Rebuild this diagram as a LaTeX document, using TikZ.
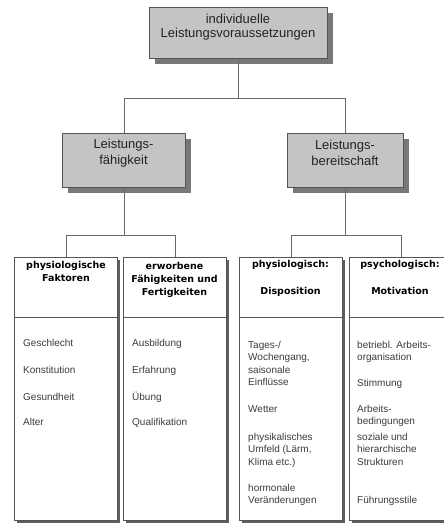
\documentclass[tikz,border=0pt]{standalone}
\usepackage{fontspec}
\setmainfont{Liberation Sans}
\newfontfamily\hdfont{DejaVu Sans}
\usetikzlibrary{shadows}
\definecolor{boxgray}{RGB}{196,196,196}
\definecolor{shadowgray}{RGB}{120,120,120}
\definecolor{colshadow}{RGB}{95,95,95}
\definecolor{edgegray}{RGB}{85,85,85}
\definecolor{linegray}{RGB}{105,105,105}
\definecolor{itemgray}{RGB}{60,60,60}
\definecolor{titlegray}{RGB}{35,35,35}
\begin{document}
\begin{tikzpicture}[x=1pt,y=-1pt,
  graybox/.style={draw=edgegray, line width=0.9pt, fill=boxgray, anchor=north west, inner sep=0pt,
    drop shadow={shadow xshift=6pt, shadow yshift=-6pt, fill=shadowgray, opacity=1}},
  colbox/.style={draw=edgegray, line width=0.9pt, fill=white, anchor=north west, inner sep=0pt,
    minimum width=103pt, minimum height=263pt,
    drop shadow={shadow xshift=3pt, shadow yshift=-3pt, fill=colshadow, opacity=1}},
  toplabel/.style={align=center, inner sep=0pt, text=titlegray, font=\fontsize{13}{14}\selectfont},
  midlabel/.style={align=center, inner sep=0pt, text=titlegray, font=\fontsize{13}{16}\selectfont},
  headlabel/.style={align=center, inner sep=0pt, anchor=north, text=black, font=\hdfont\bfseries\fontsize{9.5}{13}\selectfont},
  itemlabel/.style={align=left, inner sep=0pt, anchor=north west, text=itemgray, font=\fontsize{10}{12.6}\selectfont},
  conn/.style={draw=linegray, line width=0.9pt},
  sepline/.style={draw=edgegray, line width=0.8pt}
]
\useasboundingbox (0,0) rectangle (444,523);

% top level
\node[graybox, minimum width=178pt, minimum height=51pt] (top) at (149,7) {};
\node[toplabel] (toptxt) at (238,27) {individuelle\\Leistungsvoraussetzungen};

% middle level
\node[graybox, minimum width=123pt, minimum height=54pt] (lf) at (62,133) {};
\node[midlabel] (lftxt) at (123.5,153) {Leistungs-\\fähigkeit};
\node[graybox, minimum width=116pt, minimum height=54pt] (rb) at (287,133) {};
\node[midlabel] (rbtxt) at (345,153) {Leistungs-\\bereitschaft};

% columns
\node[colbox] (b1) at (14,257) {};
\node[colbox] (b2) at (123,257) {};
\node[colbox] (b3) at (239,257) {};
\node[colbox] (b4) at (349,257) {};

\foreach \b in {b1,b2,b3,b4}{
  \draw[sepline] (\b.west |- 0,317) -- (\b.east |- 0,317);
}

% connectors
\coordinate (j0) at (top.south |- 0,98);
\draw[conn] (top.south) -- (j0) -| (lf.north);
\draw[conn] (j0) -| (rb.north);
\coordinate (j1) at (lf.south |- 0,235);
\draw[conn] (lf.south) -- (j1) -| (b1.north);
\draw[conn] (j1) -| (b2.north);
\coordinate (j2) at (rb.south |- 0,235);
\draw[conn] (rb.south) -- (j2) -| (b3.north);
\draw[conn] (j2) -| (b4.north);

% headers
\node[headlabel] (h1) at (66,259.5) {\strut physiologische\\Faktoren};
\node[headlabel] (h2) at (174.5,260.5) {\strut erworbene\\Fähigkeiten und\\Fertigkeiten};
\node[headlabel] (h3) at (290.5,258.5) {\strut physiologisch:\\[14pt]Disposition};
\node[headlabel] (h4) at (400,258.5) {\strut psychologisch:\\[14pt]Motivation};

% items column 1
\node[itemlabel] (i11) at (23,337) {\strut Geschlecht};
\node[itemlabel] (i12) at (23,364) {\strut Konstitution};
\node[itemlabel] (i13) at (23,391) {\strut Gesundheit};
\node[itemlabel] (i14) at (23,416) {\strut Alter};
% items column 2
\node[itemlabel] (i21) at (132,337) {\strut Ausbildung};
\node[itemlabel] (i22) at (132,364) {\strut Erfahrung};
\node[itemlabel] (i23) at (132,391) {\strut Übung};
\node[itemlabel] (i24) at (132,416) {\strut Qualifikation};
% items column 3
\node[itemlabel] (i31) at (248,339) {\strut Tages-/\\Wochengang,\\saisonale\\Einflüsse};
\node[itemlabel] (i32) at (248,403) {\strut Wetter};
\node[itemlabel] (i33) at (248,431) {\strut physikalisches\\Umfeld (Lärm,\\Klima etc.)};
\node[itemlabel] (i34) at (248,482) {\strut hormonale\\Veränderungen};
% items column 4
\node[itemlabel] (i41) at (357,339) {\strut betriebl. Arbeits-\\organisation};
\node[itemlabel] (i42) at (357,377) {\strut Stimmung};
\node[itemlabel] (i43) at (357,403) {\strut Arbeits-\\bedingungen};
\node[itemlabel] (i44) at (357,431) {\strut soziale und\\hierarchische\\Strukturen};
\node[itemlabel] (i45) at (357,494) {\strut Führungsstile};
\end{tikzpicture}
\end{document}
